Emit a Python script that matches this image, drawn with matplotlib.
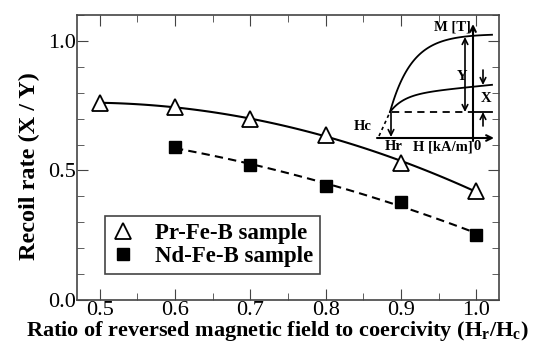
import numpy as np
import matplotlib.pyplot as plt
from matplotlib.ticker import MultipleLocator

plt.rcParams['font.family'] = 'Liberation Serif'
plt.rcParams['mathtext.fontset'] = 'custom'
plt.rcParams['mathtext.bf'] = 'Liberation Serif:bold'

# data
ratio_pr = [0.5, 0.6, 0.7, 0.8, 0.9, 1.0]
recoil_pr = [0.76, 0.745, 0.70, 0.635, 0.53, 0.42]
ratio_nd = [0.6, 0.7, 0.8, 0.9, 1.0]
recoil_nd = [0.59, 0.52, 0.44, 0.38, 0.25]

fig = plt.figure(figsize=(5.47, 3.43), dpi=100)
ax = fig.add_axes([0.1408, 0.1254, 0.7714, 0.8309])

# smooth fitted curves through the points
xs = np.linspace(0.5, 1.0, 100)
ax.plot(xs, np.polyval(np.polyfit(ratio_pr, recoil_pr, 2), xs), color='black', lw=1.5)
xs2 = np.linspace(0.6, 1.0, 100)
ax.plot(xs2, np.polyval(np.polyfit(ratio_nd, recoil_nd, 2), xs2), color='black', lw=1.5, ls=(0, (4, 2.5)))

ax.plot(ratio_pr, recoil_pr, ls='none', marker='^', ms=11, mfc='white', mec='black', mew=1.3,
        label='Pr-Fe-B sample', zorder=3)
ax.plot(ratio_nd, recoil_nd, ls='none', marker='s', ms=9, mfc='black', mec='black',
        label='Nd-Fe-B sample', zorder=3)

ax.set_xlim(0.47, 1.03)
ax.set_ylim(0, 1.1)
ax.xaxis.set_major_locator(MultipleLocator(0.1))
ax.xaxis.set_minor_locator(MultipleLocator(0.05))
ax.yaxis.set_major_locator(MultipleLocator(0.5))
ax.yaxis.set_minor_locator(MultipleLocator(0.1))
ax.tick_params(which='both', direction='in', top=True, right=True, labelsize=16, color='#444', pad=1)
ax.tick_params(which='major', length=8)
ax.tick_params(which='minor', length=5)
for s in ax.spines.values():
    s.set_color('#444')
    s.set_linewidth(1.2)

ax.set_xlabel(r'Ratio of reversed magnetic field to coercivity (H$_\mathbf{r}$/H$_\mathbf{c}$)',
              fontsize=16, fontweight='bold', va='center')
ax.xaxis.set_label_coords(0.476, -0.108)
ax.set_ylabel('Recoil rate (X / Y)', fontsize=17.5, fontweight='bold', va='center')
ax.yaxis.set_label_coords(-0.112, 0.47)

leg = ax.legend(loc='lower left', bbox_to_anchor=(0.066, 0.091), borderaxespad=0, fancybox=False,
                edgecolor='#444', framealpha=1, handlelength=1.0, handletextpad=0.9,
                prop={'weight': 'bold', 'size': 16.5}, borderpad=0.3, labelspacing=0.1)
leg.get_frame().set_linewidth(1.2)

# schematic inset, drawn in figure pixel units
sk = fig.add_axes([0, 0, 1, 1])
sk.set_xlim(0, 547)
sk.set_ylim(343, 0)
sk.axis('off')
arr = dict(arrowstyle='->', color='black', lw=1.5, shrinkA=0, shrinkB=0)
sk.annotate('', xy=(494, 138), xytext=(377, 138), arrowprops=arr)
sk.annotate('', xy=(473, 24), xytext=(473, 141), arrowprops=arr)

hx = np.linspace(390, 492, 80)
sk.plot(hx, 34 + 78 * np.exp(-(hx - 390) / 22), color='black', lw=1.3)
sk.plot(hx, 112 - 17 * (1 - np.exp(-(hx - 390) / 14)) - 0.1 * (hx - 390), color='black', lw=1.3)
sk.plot([379, 390], [136, 112], color='black', lw=1.2, ls=(0, (2, 2)))
sk.plot([392, 473], [112, 112], color='black', lw=1.3, ls=(0, (4, 3)))
sk.plot([473, 492], [112, 112], color='black', lw=1.3)

sk.annotate('', xy=(391, 137), xytext=(391, 112), arrowprops=dict(arr, lw=1.2))
sk.annotate('', xy=(465, 37), xytext=(465, 112),
            arrowprops=dict(arrowstyle='<->', color='black', lw=1.2, shrinkA=0, shrinkB=0))
sk.annotate('', xy=(483, 85), xytext=(483, 70), arrowprops=dict(arr, lw=1.2))
sk.annotate('', xy=(483, 112), xytext=(483, 126), arrowprops=dict(arr, lw=1.2))

tk = dict(fontsize=10.5, fontweight='bold', ha='center', va='center')
sk.text(452, 27, 'M [T]', **tk)
sk.text(462, 77, 'Y', **tk)
sk.text(486, 99, 'X', **tk)
sk.text(363, 127, 'Hc', **tk)
sk.text(394, 147, 'Hr', **tk)
sk.text(443, 147, 'H [kA/m]', **tk)
sk.text(477, 147, '0', **tk)

fig.savefig('out.png', dpi=100)
